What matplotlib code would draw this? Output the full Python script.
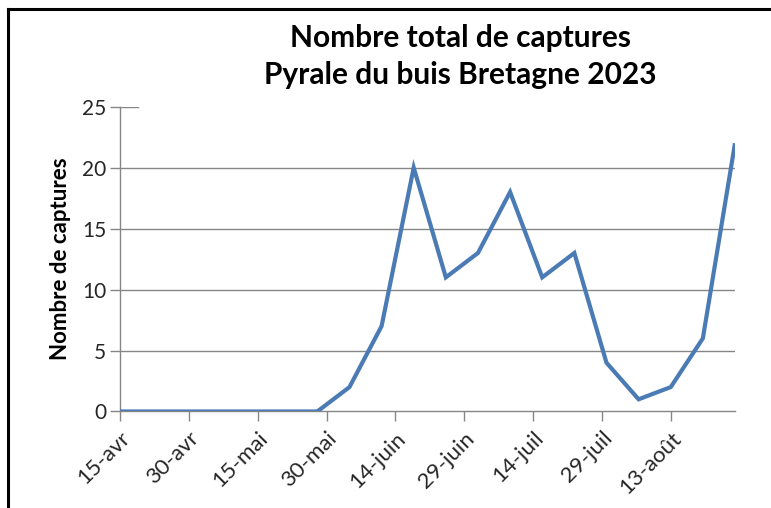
import matplotlib
matplotlib.use("Agg")
import matplotlib.pyplot as plt
import pandas as pd

plt.rcParams["font.family"] = ["Lato", "DejaVu Sans"]

# weekly trap counts, Bretagne 2023
dates = pd.to_datetime([
    "2023-04-15", "2023-04-23", "2023-04-30", "2023-05-07", "2023-05-14",
    "2023-05-21", "2023-05-28", "2023-06-04", "2023-06-11", "2023-06-18",
    "2023-06-25", "2023-07-02", "2023-07-09", "2023-07-16", "2023-07-23",
    "2023-07-30", "2023-08-06", "2023-08-13", "2023-08-20", "2023-08-27",
])
captures = [0, 0, 0, 0, 0, 0, 0, 2, 7, 20, 11, 13, 18, 11, 13, 4, 1, 2, 6, 22]

tick_dates = pd.date_range("2023-04-15", periods=9, freq="15D")
tick_labels = ["15-avr", "30-avr", "15-mai", "30-mai", "14-juin",
               "29-juin", "14-juil", "29-juil", "13-août"]
y_ticks = [0, 5, 10, 15, 20, 25]

LINE = "#4A7BB5"
AXIS = "#868686"
TEXT = "#262626"

fig = plt.figure(figsize=(7.71, 5.08), dpi=100)
ax = fig.add_axes([0.1556, 0.19, 0.7977, 0.60])

ax.plot(dates, captures, color=LINE, lw=3.0, solid_joinstyle="miter",
        solid_capstyle="butt", zorder=3)

ax.set_xlim(pd.Timestamp("2023-04-15"), pd.Timestamp("2023-08-27"))
ax.set_ylim(0, 25)

ax.set_xticks(tick_dates)
ax.set_xticklabels(tick_labels, rotation=45, ha="right", rotation_mode="anchor",
                   fontsize=16, color=TEXT)
ax.set_yticks(y_ticks)
ax.set_yticklabels([str(v) for v in y_ticks], fontsize=15, color=TEXT)

for v in y_ticks[1:-1]:
    ax.axhline(v, color=AXIS, lw=1.0, zorder=1)
ax.axhline(25, xmin=0, xmax=0.03, color=AXIS, lw=1.0, zorder=1)

for s in ["top", "right"]:
    ax.spines[s].set_visible(False)
for s in ["left", "bottom"]:
    ax.spines[s].set_color(AXIS)
    ax.spines[s].set_linewidth(1.0)
ax.tick_params(axis="both", direction="out", length=7, width=1.0, color=AXIS)
ax.tick_params(axis="x", pad=5)
ax.tick_params(axis="y", pad=3)

ax.set_ylabel("Nombre de captures", fontsize=16, fontweight="bold", color="black",
              labelpad=8)

fig.text(0.597, 0.925, "Nombre total de captures", ha="center", va="center",
         fontsize=21.5, fontweight="bold", color="black")
fig.text(0.597, 0.852, "Pyrale du buis Bretagne 2023", ha="center", va="center",
         fontsize=21.5, fontweight="bold", color="black")

# chart frame (top and left edges visible)
fig.add_artist(plt.Line2D([0.0105, 1.0], [0.983, 0.983], transform=fig.transFigure,
                          color="black", lw=2.2))
fig.add_artist(plt.Line2D([0.0105, 0.0105], [0.0, 0.983], transform=fig.transFigure,
                          color="black", lw=2.2))

fig.savefig("out.png", dpi=100)
